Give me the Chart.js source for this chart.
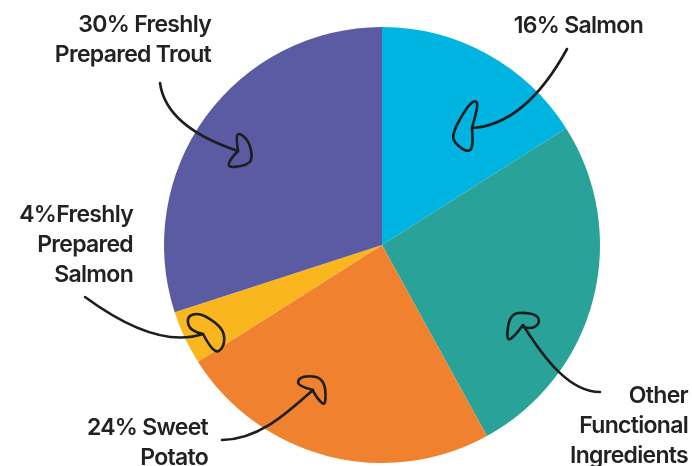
<!DOCTYPE html>
<html>
<head>
<meta charset="utf-8">
<script src="https://cdn.jsdelivr.net/npm/chart.js@4"></script>
<style>
  html, body { margin: 0; padding: 0; background: #fff; }
  #wrap { width: 692px; height: 466px; position: relative; }
</style>
</head>
<body>
<div id="wrap"><canvas id="pie"></canvas></div>
<script>
const categories = ['Salmon', 'Other Functional Ingredients', 'Sweet Potato', 'Freshly Prepared Salmon', 'Freshly Prepared Trout'];
const shares = [16, 26, 24, 4, 30];
const colours = ['#00b4e1', '#29a299', '#f0812e', '#f9b61f', '#5a5ba3'];

// label text lines, right edge x, first baseline y (annotation layout)
const labels = [
  { lines: ['16% Salmon'], x: 643, y: 33 },
  { lines: ['Other', 'Functional', 'Ingredients'], x: 688, y: 403 },
  { lines: ['24% Sweet', 'Potato'], x: 208, y: 435 },
  { lines: ['4%Freshly', 'Prepared', 'Salmon'], x: 133, y: 222 },
  { lines: ['30% Freshly', 'Prepared Trout'], x: 211, y: 32 }
];

// hand drawn arrows: curve (start, control1, control2, end) and head loop
const arrows = [
  { c: [[567, 49], [550, 80], [520, 125], [472, 128]],
    head: [[472, 128], [475, 114], [475, 106], [468, 110], [455, 133], [459, 141], [469, 147], [472, 140], [472, 128]] },
  { c: [[600, 392], [570, 392], [545, 360], [523, 325]],
    head: [[523, 325], [511, 341], [511, 325], [515, 316], [524, 315], [534, 317], [536, 323], [530, 328], [523, 327]] },
  { c: [[222, 440], [260, 440], [290, 410], [313, 390]],
    head: [[313, 390], [301, 386], [302, 380], [310, 378], [319, 380], [323, 388], [322, 405], [313, 391]] },
  { c: [[85, 297], [130, 330], [170, 345], [203, 334]],
    head: [[203, 334], [194, 331], [191, 321], [197, 317], [206, 319], [220, 330], [220, 343], [212, 349], [203, 334]] },
  { c: [[160, 83], [165, 120], [205, 140], [238, 151]],
    head: [[238, 151], [237, 139], [240, 137], [247, 143], [250, 156], [246, 162], [226, 164], [238, 151]] }
];

const annotate = {
  id: 'annotate',
  afterDraw(chart) {
    const ctx = chart.ctx;
    ctx.save();
    ctx.strokeStyle = '#1e1e1e';
    ctx.lineWidth = 2.6;
    ctx.lineCap = 'round';
    ctx.lineJoin = 'round';
    arrows.forEach(a => {
      const c = a.c;
      ctx.beginPath();
      ctx.moveTo(c[0][0], c[0][1]);
      ctx.bezierCurveTo(c[1][0], c[1][1], c[2][0], c[2][1], c[3][0], c[3][1]);
      ctx.stroke();
      // smooth loop through the head points, widened a little about its middle
      const inner = a.head.slice(1, -1);
      const cx = inner.reduce((s, p) => s + p[0], 0) / inner.length;
      const cy = inner.reduce((s, p) => s + p[1], 0) / inner.length;
      const h = a.head.map((p, i) => (i === 0 || i === a.head.length - 1)
        ? p : [cx + (p[0] - cx) * 1.3, cy + (p[1] - cy) * 1.3]);
      ctx.beginPath();
      ctx.moveTo(h[0][0], h[0][1]);
      for (let i = 1; i < h.length - 1; i += 1) {
        const p = h[i], q = h[i + 1];
        const mx = i === h.length - 2 ? q[0] : (p[0] + q[0]) / 2;
        const my = i === h.length - 2 ? q[1] : (p[1] + q[1]) / 2;
        ctx.quadraticCurveTo(p[0], p[1], mx, my);
      }
      ctx.stroke();
    });
    ctx.fillStyle = '#222';
    ctx.font = '600 23px Inter';
    ctx.textAlign = 'right';
    ctx.textBaseline = 'alphabetic';
    if ('letterSpacing' in ctx) ctx.letterSpacing = '-0.7px';
    labels.forEach(l => {
      l.lines.forEach((t, i) => ctx.fillText(t, l.x, l.y + i * 30));
    });
    ctx.restore();
  }
};

new Chart(document.getElementById('pie'), {
  type: 'pie',
  data: {
    labels: categories,
    datasets: [{
      data: shares,
      backgroundColor: colours,
      borderWidth: 0
    }]
  },
  options: {
    responsive: true,
    maintainAspectRatio: false,
    animation: false,
    layout: { padding: { top: 27, bottom: 3, left: 72, right: 0 } },
    plugins: {
      legend: { display: false },
      tooltip: { enabled: false }
    }
  },
  plugins: [annotate]
});
</script>
</body>
</html>
